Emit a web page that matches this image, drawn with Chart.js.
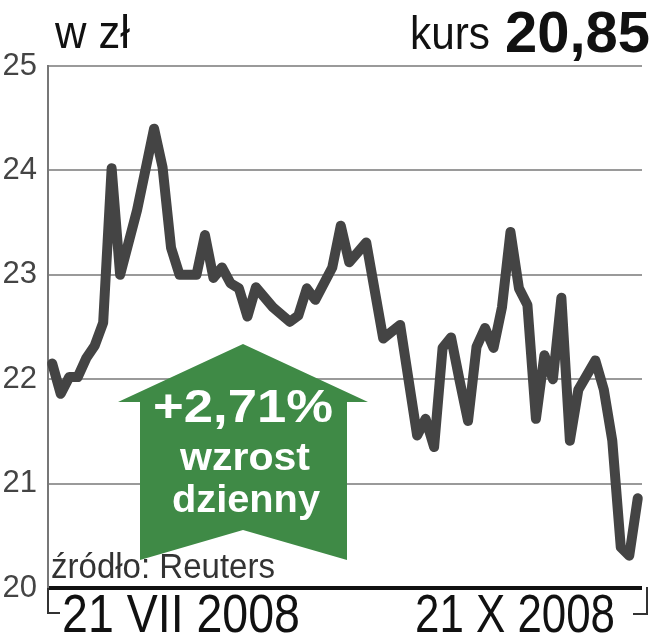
<!DOCTYPE html>
<html>
<head>
<meta charset="utf-8">
<script src="https://cdn.jsdelivr.net/npm/chart.js@4.4.1/dist/chart.umd.min.js"></script>
<style>
  html, body { margin: 0; padding: 0; background: #fff; }
  #wrap { width: 655px; height: 640px; position: relative; }
</style>
</head>
<body>
<div id="wrap"><canvas id="kurs"></canvas></div>
<script>
// trading day index (from 21 VII 2008) and closing price, zl
var days = [0,1,2,3,4,5,6,7,8,10,12,13,14,15,17,18,19,20,21,22,23,24,26,28,29,30,31,33,34,35,37,39,41,43,44,45,46,47,48,49,50,51,52,53,54,55,56,57,58,59,60,61,62,64,65,66,67,68,69];
var ceny = [22.15,21.86,22.02,22.02,22.2,22.32,22.54,24.02,23.0,23.62,24.4,24.03,23.26,23.0,23.0,23.38,22.97,23.07,22.92,22.87,22.6,22.88,22.69,22.55,22.61,22.87,22.76,23.07,23.47,23.12,23.31,22.39,22.52,21.46,21.62,21.35,22.3,22.4,21.99,21.6,22.31,22.49,22.3,22.69,23.41,22.87,22.71,21.62,22.23,22.0,22.78,21.41,21.9,22.18,21.9,21.41,20.39,20.31,20.86];
var yTicks = [20,21,22,23,24,25];
var dateLabels = ["21 VII 2008","21 X 2008"];
var kurs = "20,85";
var zmiana = "+2,71%";

var SANS = "'Liberation Sans',Arial,sans-serif";

var punkty = days.map(function(d, i){ return {x: d, y: ceny[i]}; });

// condensed look: squeeze the text to the width it has in the print
function tekst(c, s, x, y, szer, font, align){
    c.save();
    c.font = font;
    var w = c.measureText(s).width;
    var k = szer / w;
    var x0 = align === 'right' ? x - szer : (align === 'center' ? x - szer / 2 : x);
    c.translate(x0, y);
    c.scale(k, 1);
    c.textAlign = 'left';
    c.textBaseline = 'alphabetic';
    c.fillText(s, 0, 0);
    c.restore();
}

// green arrow, header, footer, bracket
var ozdoby = {
    id: 'ozdoby',
    beforeDatasetsDraw: function(chart){
        var c = chart.ctx;
        c.save();
        c.fillStyle = '#3f8a46';
        c.beginPath();
        c.moveTo(243,344);
        c.lineTo(368,402);
        c.lineTo(347,402);
        c.lineTo(347,560);
        c.lineTo(243,530);
        c.lineTo(140,560);
        c.lineTo(140,402);
        c.lineTo(118,402);
        c.closePath();
        c.fill();
        c.fillStyle = '#fff';
        tekst(c, zmiana, 243, 422, 180, "bold 47px " + SANS, 'center');
        tekst(c, "wzrost", 245, 470, 130, "bold 38px " + SANS, 'center');
        tekst(c, "dzienny", 246, 512, 148, "bold 38px " + SANS, 'center');
        c.restore();
    },
    afterDraw: function(chart){
        var c = chart.ctx, a = chart.chartArea;
        c.save();
        c.fillStyle = '#111';
        tekst(c, "w zł", 55, 48, 75, "46px " + SANS, 'left');
        tekst(c, "kurs", 490, 49, 80, "47px " + SANS, 'right');
        tekst(c, kurs, 650, 52, 145, "bold 58px " + SANS, 'right');
        c.fillStyle = '#333';
        tekst(c, "źródło: Reuters", 51, 578, 224, "35px " + SANS, 'left');
        c.fillStyle = '#111';
        tekst(c, dateLabels[0], 62, 632, 238, "54px " + SANS, 'left');
        tekst(c, dateLabels[1], 615, 632, 200, "54px " + SANS, 'right');
        c.strokeStyle = '#333';
        c.lineWidth = 2;
        c.beginPath();
        c.moveTo(a.left, a.bottom);
        c.lineTo(a.left, a.bottom + 25);
        c.lineTo(a.left + 12, a.bottom + 25);
        c.moveTo(a.right + 5, a.bottom - 1);
        c.lineTo(a.right + 5, a.bottom + 26);
        c.lineTo(a.right - 9, a.bottom + 26);
        c.stroke();
        c.restore();
    }
};

var ctx = document.getElementById("kurs");
var myChart = new Chart(ctx, {
    type: 'line',
    data: {
        datasets: [{
            data: punkty,
            borderColor: '#444',
            borderWidth: 10,
            borderJoinStyle: 'round',
            borderCapStyle: 'round',
            pointRadius: 0,
            tension: 0,
            fill: false,
            clip: false
        }]
    },
    options: {
        responsive: true,
        maintainAspectRatio: false,
        animation: false,
        events: [],
        layout: { padding: { left: 0, right: 13, top: 66, bottom: 52 } },
        plugins: { legend: { display: false }, tooltip: { enabled: false } },
        scales: {
            x: {
                type: 'linear',
                display: false,
                min: -0.5,
                max: 69.5
            },
            y: {
                min: 20,
                max: 25,
                afterFit: function(s){ s.width = 48; },
                afterBuildTicks: function(s){ s.ticks = yTicks.map(function(v){ return {value: v}; }); },
                border: { display: true, color: '#777', width: 2 },
                grid: {
                    drawTicks: false,
                    color: function(c){ return c.tick && c.tick.value === 20 ? '#111' : '#9a9a9a'; },
                    lineWidth: function(c){ return c.tick && c.tick.value === 20 ? 4 : 2; }
                },
                ticks: {
                    padding: 11,
                    color: '#444',
                    font: { family: SANS, size: 31 }
                }
            }
        }
    },
    plugins: [ozdoby]
});
</script>
</body>
</html>
